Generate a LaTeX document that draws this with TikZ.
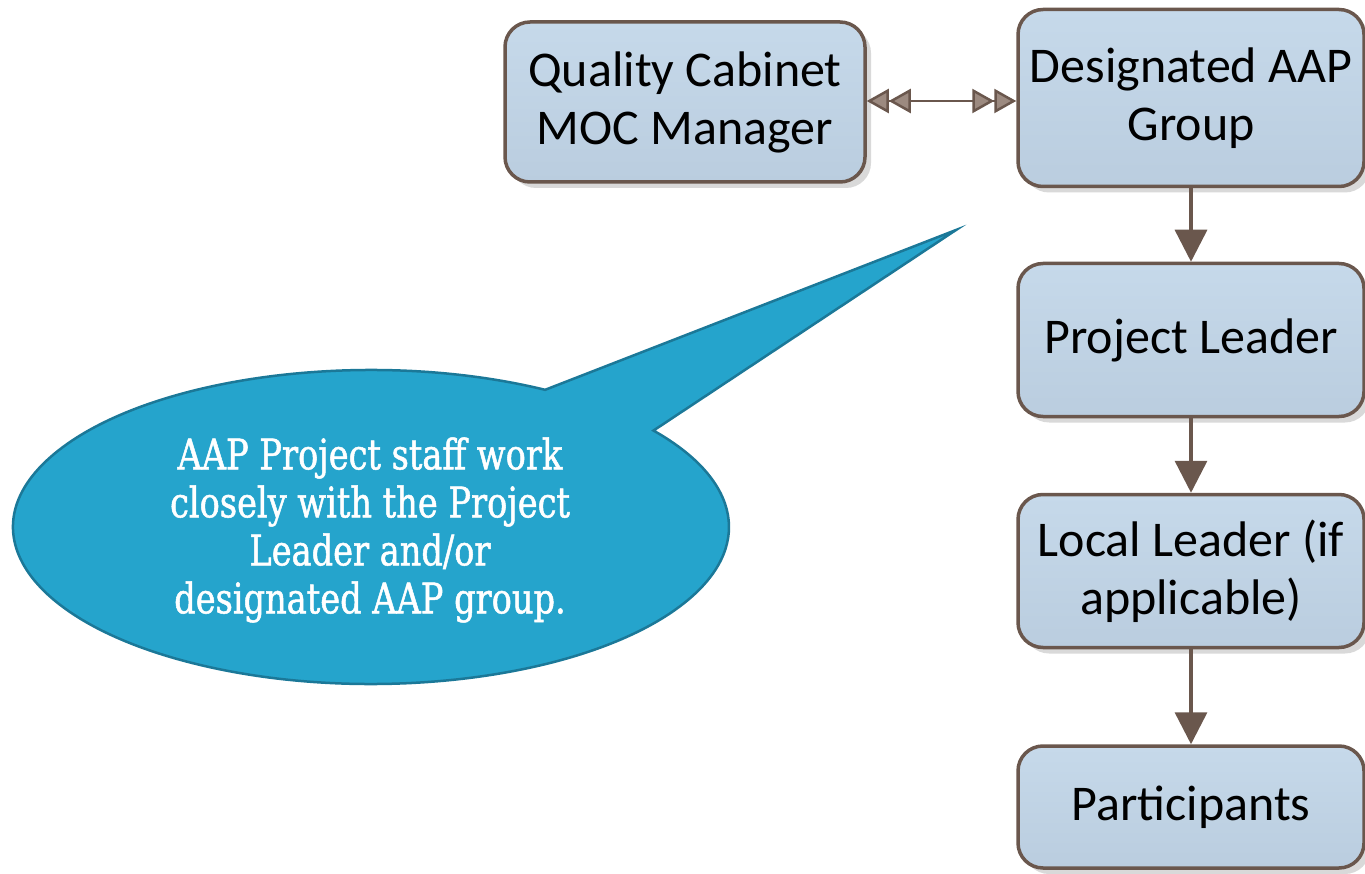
\documentclass[tikz,border=0pt]{standalone}
\usepackage{fontspec}
\setmainfont{Carlito}
\newfontfamily\callfont[FakeStretch=0.80,FakeBold=1.2]{DejaVu Serif}
\usetikzlibrary{arrows.meta,shadows,calc}
\definecolor{boxline}{HTML}{6A574D}
\definecolor{boxtop}{HTML}{C6D9EA}
\definecolor{boxbot}{HTML}{BACDDF}
\definecolor{dblfill}{HTML}{9C8A80}
\definecolor{calfill}{HTML}{25A4CC}
\definecolor{calline}{HTML}{1B7898}
\tikzset{
  orgbox/.style={draw=boxline, line width=3.5pt, rounded corners=25pt,
    top color=boxtop, bottom color=boxbot, align=center, inner sep=0pt,
    font=\fontsize{50}{58}\selectfont,
    drop shadow={opacity=0.25, shadow xshift=6pt, shadow yshift=-6pt, fill=black!60}},
  flow/.style={draw=boxline, line width=3.5pt, -{Triangle[width=32pt,length=32pt,fill=boxline]}},
  twoway/.style={draw=boxline, line width=2.5pt,
    {Triangle[width=24pt,length=22pt,fill=dblfill]Triangle[width=24pt,length=22pt,fill=dblfill]}-{Triangle[width=24pt,length=22pt,fill=dblfill]Triangle[width=24pt,length=22pt,fill=dblfill]}},
  callout/.style={fill=calfill, draw=calline, line width=2.5pt}
}
\begin{document}
\begin{tikzpicture}[x=1pt,y=1pt]
\useasboundingbox (0,0) rectangle (1365,-874);
% callout
\coordinate (c) at (371,-527);
\coordinate (tip) at (956,-230);
\draw[callout] ($(c)+(37.9:358pt and 157pt)$) -- (tip) -- ($(c)+(60.9:358pt and 157pt)$)
  arc[start angle=60.9, end angle=397.9, x radius=358pt, y radius=157pt] -- cycle;
\node[text=white, align=center, font=\callfont\fontsize{42}{48}\selectfont] (ctext) at (370,-530)
  {AAP Project staff work\\closely with the Project\\Leader and/or\\designated AAP group.};
% boxes
\node[orgbox, minimum width=360pt, minimum height=160pt] (qc) at (685,-102) {Quality Cabinet\\MOC Manager};
\node[orgbox, minimum width=346pt, minimum height=177pt] (dg) at (1191,-98) {Designated AAP\\Group};
\node[orgbox, minimum width=346pt, minimum height=153pt] (pl) at (1191,-340) {Project Leader};
\node[orgbox, minimum width=346pt, minimum height=153pt] (ll) at (1191,-571) {Local Leader (if\\applicable)};
\node[orgbox, minimum width=346pt, minimum height=122pt] (pa) at (1191,-807) {Participants};
% connectors
\draw[twoway] (qc.east |- 0,-101) -- (dg.west |- 0,-101);
\draw[flow] (dg.south) -- (pl.north);
\draw[flow] (pl.south) -- (ll.north);
\draw[flow] (ll.south) -- (pa.north);
\end{tikzpicture}
\end{document}
